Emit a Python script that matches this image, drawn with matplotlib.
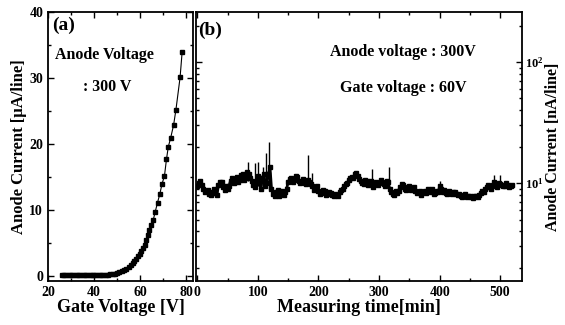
import matplotlib
matplotlib.use("Agg")
import matplotlib.pyplot as plt
from matplotlib.ticker import MultipleLocator, LogLocator, LogFormatterMathtext, NullFormatter

plt.rcParams['font.family'] = ['Liberation Serif', 'DejaVu Serif']
plt.rcParams['font.weight'] = 'bold'
plt.rcParams['axes.labelweight'] = 'bold'

# (a) anode current vs gate voltage
gate_v = [26, 27, 28, 29, 30, 31, 32, 33, 34, 35, 36, 37, 38, 39, 40, 41, 42, 43, 44, 45,
          46, 47, 48, 49, 50, 51, 52, 53, 54, 55, 56, 56.8, 57.5, 58.2, 59, 59.7, 60.5,
          61.2, 62, 62.6, 63.2, 64, 64.8, 65.6, 66.5, 67.5, 68.5, 69.5, 70.5, 71.4,
          72.2, 73.2, 74.5, 75.5, 77.3, 78.2]
anode_ua = [0.1, 0.1, 0.1, 0.1, 0.1, 0.1, 0.1, 0.1, 0.1, 0.1, 0.1, 0.1, 0.1, 0.1, 0.1, 0.12,
            0.13, 0.15, 0.16, 0.18, 0.2, 0.22, 0.25, 0.35, 0.45, 0.55, 0.7, 0.85, 1.0, 1.3,
            1.6, 1.9, 2.3, 2.6, 3.0, 3.3, 3.7, 4.2, 4.7, 5.5, 6.2, 7.0, 7.7, 8.4, 9.7,
            11.1, 12.4, 14.0, 15.1, 17.7, 19.6, 20.9, 22.9, 25.2, 30.1, 34.0]

# (b) anode current vs measuring time, read every 5 min plus the in-between readings
time_min = list(range(0, 525, 5))
current_na = [9.5, 10.4, 9.0, 8.6, 8.2, 8.5, 8.3, 9.6, 10.2, 8.8, 9.0, 10.5, 10.0, 11.2,
              10.6, 11.8, 11.0, 12.0, 10.4, 9.2, 11.5, 9.0, 12.0, 10.0, 13.5, 8.2, 8.5,
              7.9, 8.6, 8.4, 10.2, 11.0, 10.6, 11.2, 10.0, 10.8, 9.8, 10.2, 9.4, 9.0, 8.6,
              8.3, 8.6, 8.1, 8.3, 7.8, 8.0, 8.4, 9.0, 9.8, 10.6, 11.3, 11.8, 11.5, 10.5,
              9.8, 10.4, 10.0, 9.2, 10.2, 10.0, 10.3, 9.5, 10.2, 8.4, 8.0, 8.3, 9.2, 9.6,
              8.8, 9.5, 9.0, 8.6, 8.4, 8.0, 8.6, 8.9, 8.5, 8.2, 8.6, 9.4, 8.5, 8.3, 8.6,
              8.1, 8.4, 8.0, 7.9, 8.0, 7.7, 7.9, 7.6, 7.9, 8.0, 8.6, 8.9, 9.6, 9.0, 10.2,
              9.3, 9.8, 9.4, 10.0, 9.2, 9.6]
time_mid = [t + 2.5 for t in range(0, 520, 5)]
current_mid = [10.0, 9.6, 8.4, 8.8, 8.0, 8.9, 8.0, 10.3, 9.2, 9.4, 9.5, 11.0, 10.4, 10.2,
               11.6, 10.6, 12.4, 11.0, 9.6, 10.2, 10.0, 11.0, 9.4, 12.0, 9.0, 7.8, 8.8,
               8.3, 8.0, 9.0, 10.8, 10.2, 11.5, 10.4, 10.3, 10.0, 10.6, 9.8, 8.8, 9.4,
               8.2, 8.8, 8.0, 8.5, 8.0, 8.2, 7.8, 8.8, 9.4, 10.0, 11.0, 11.0, 12.2, 10.8,
               10.0, 10.6, 9.6, 10.5, 9.8, 9.6, 10.6, 9.8, 10.5, 9.0, 8.2, 8.6, 8.6, 9.8,
               9.0, 9.3, 8.7, 9.2, 8.3, 8.6, 8.4, 8.3, 8.6, 8.9, 8.3, 8.4, 8.9, 8.7, 8.2,
               8.3, 8.4, 8.1, 8.2, 7.7, 8.2, 7.9, 7.7, 7.8, 7.7, 8.3, 8.4, 9.3, 9.2, 9.6,
               9.5, 10.0, 9.6, 9.5, 9.7, 9.4]
spike_t = [84, 96, 101, 108, 114, 118, 183, 190, 288, 316, 400, 490, 500]
spike_lo = [10.5, 9.5, 9.5, 9.5, 9.5, 9.0, 9.8, 9.4, 9.5, 9.8, 8.5, 9.5, 9.5]
spike_hi = [14.9, 14.6, 14.9, 13.5, 17.7, 21.8, 17.0, 12.1, 13.0, 13.6, 10.4, 11.6, 11.6]

trace = sorted(list(zip(time_min, current_na)) + list(zip(time_mid, current_mid)))
trace_t = [p[0] for p in trace]
trace_v = [p[1] for p in trace]

fig = plt.figure(figsize=(5.65, 3.25), dpi=100)
ax1 = fig.add_axes([0.085, 0.135, 0.257, 0.828])
ax2 = fig.add_axes([0.347, 0.135, 0.577, 0.828])

for ax in (ax1, ax2):
    for s in ax.spines.values():
        s.set_linewidth(1.3)
    ax.tick_params(which='both', direction='in', top=True, right=True,
                   labelsize=10, width=1)
    ax.tick_params(which='major', length=4)
    ax.tick_params(which='minor', length=2)

ax1.plot(gate_v, anode_ua, '-', color='black', lw=0.8, marker='s', ms=2.6)
ax1.set_xlim(20, 83)
ax1.set_ylim(-0.8, 40)
ax1.xaxis.set_major_locator(MultipleLocator(20))
ax1.xaxis.set_minor_locator(MultipleLocator(10))
ax1.yaxis.set_major_locator(MultipleLocator(10))
ax1.yaxis.set_minor_locator(MultipleLocator(5))
ax1.set_xlabel('Gate Voltage [V]', fontsize=13, labelpad=0)
ax1.set_ylabel('Anode Current [μA/line]', fontsize=12, labelpad=2)
ax1.text(0.03, 0.952, '(a)', transform=ax1.transAxes, fontsize=14, va='center')
ax1.text(0.05, 0.84, 'Anode Voltage', transform=ax1.transAxes, fontsize=11.5, va='center')
ax1.text(0.24, 0.72, ': 300 V', transform=ax1.transAxes, fontsize=11.5, va='center')

ax2.plot(trace_t, trace_v, '-', color='black', lw=2.0, marker='s', ms=2.2)
ax2.vlines(spike_t, spike_lo, spike_hi, color='black', lw=1.0)
ax2.set_yscale('log')
ax2.set_xlim(-2, 536)
ax2.set_ylim(1.55, 259)
ax2.xaxis.set_major_locator(MultipleLocator(100))
ax2.xaxis.set_minor_locator(MultipleLocator(50))
ax2.yaxis.set_major_locator(LogLocator(base=10, numticks=5))
ax2.yaxis.set_major_formatter(LogFormatterMathtext())
ax2.yaxis.set_minor_formatter(NullFormatter())
ax2.yaxis.tick_right()
ax2.yaxis.set_label_position('right')
ax2.tick_params(which='both', left=True, right=True, labelleft=False, labelright=True)
ax2.tick_params(axis='y', labelsize=9, pad=2)
ax2.set_xlabel('Measuring time[min]', fontsize=13, labelpad=0)
ax2.set_ylabel('Anode Current [nA/line]', fontsize=11.5, labelpad=1)
ax2.text(0.006, 0.933, '(b)', transform=ax2.transAxes, fontsize=14, va='center')
ax2.text(0.635, 0.85, 'Anode voltage : 300V', transform=ax2.transAxes, fontsize=11.5,
         ha='center', va='center')
ax2.text(0.635, 0.717, 'Gate voltage : 60V', transform=ax2.transAxes, fontsize=11.5,
         ha='center', va='center')

fig.savefig('out.png', dpi=100)
